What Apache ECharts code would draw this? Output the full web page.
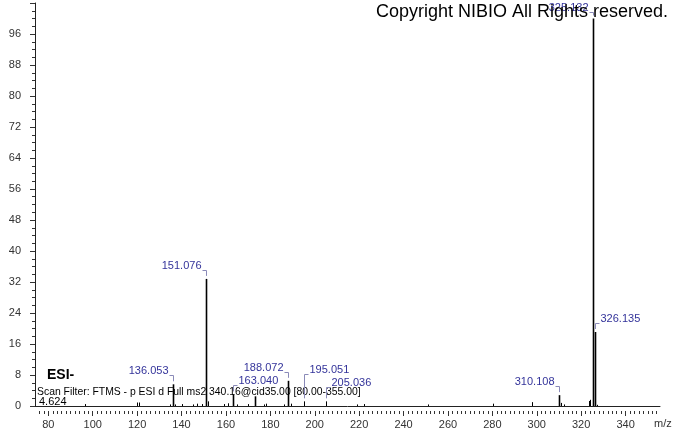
<!DOCTYPE html>
<html><head><meta charset="utf-8">
<script src="https://cdn.jsdelivr.net/npm/echarts@6/dist/echarts.min.js"></script>
<style>html,body{margin:0;padding:0;background:#fff}#c{width:674px;height:434px}</style>
</head><body><div id="c"></div>
<script>
// ---- data ----
const peakMz = [96.6, 119.9, 121.0, 135.0, 136.053, 137.06, 140.0, 145.0, 147.0, 149.0, 151.076, 152.08, 159.0, 161.0, 163.040, 165.0, 170.0, 173.1, 177.0, 178.1, 186.0, 188.072, 189.08, 195.051, 205.036, 219.0, 222.0, 251.0, 280.5, 297.9, 310.108, 311.1, 312.1, 323.6, 324.1, 325.132, 326.135, 327.1];
const peakIntensity = [0.5, 0.9, 0.9, 0.4, 5.6, 0.4, 0.5, 0.4, 0.6, 0.5, 32.8, 1.2, 0.5, 0.7, 3.0, 0.4, 0.5, 2.5, 0.4, 0.6, 0.4, 6.5, 0.6, 1.2, 1.2, 0.4, 0.5, 0.4, 0.6, 1.0, 2.8, 0.8, 0.4, 1.3, 1.6, 100, 19.1, 0.3];
const labelMz = [136.053, 151.076, 163.040, 188.072, 195.051, 205.036, 310.108, 325.132, 326.135];
const labelText = ['136.053', '151.076', '163.040', '188.072', '195.051', '205.036', '310.108', '325.132', '326.135'];
const xTickLabels = [80, 100, 120, 140, 160, 180, 200, 220, 240, 260, 280, 300, 320, 340];
const yTickLabels = [0, 8, 16, 24, 32, 40, 48, 56, 64, 72, 80, 88, 96];
const xRange = [74, 355.5];
const yRange = [0, 104];
const copyrightText = 'Copyright NIBIO All Rights reserved.';
const polarityText = 'ESI-';
const filterText = 'Scan Filter: FTMS - p ESI d Full ms2 340.16@cid35.00 [80.00-355.00]';
const baseIntensityText = '4.624';
const xAxisName = 'm/z';

// ---- layout (label placement) ----
const labelSide = ['L', 'L', 'R', 'L', 'R', 'R', 'L', 'L', 'R'];
const labelRaise = [0, 0, 0, 0, 18, 5, 0, -2, 0];

const FONT = '"Liberation Sans", Arial, sans-serif';
const minorTicks = [];
for (let v = 76; v <= 354; v += 2) minorTicks.push(v);

const peakData = peakMz.map((m, i) => [m, peakIntensity[i]]);
const labelData = labelMz.map((m, i) => [m, peakIntensity[peakMz.indexOf(m)], i]);

const chart = echarts.init(document.getElementById('c'), null, {renderer: 'canvas'});
const axisColor = '#222';
chart.setOption({
  animation: false,
  backgroundColor: '#fff',
  grid: {left: 35, right: 14, top: 3, bottom: 28, containLabel: false, outerBoundsMode: 'none'},
  xAxis: [
    {type: 'value', position: 'bottom', min: xRange[0], max: xRange[1], axisLine: {show: true, onZero: false, lineStyle: {color: axisColor, width: 1}},
     axisTick: {show: false}, axisLabel: {show: false}, splitLine: {show: false}},
    {type: 'value', position: 'bottom', min: xRange[0], max: xRange[1], offset: 5, axisLine: {show: false, onZero: false},
     axisTick: {show: true, customValues: minorTicks, length: 3, lineStyle: {color: '#333'}}, axisLabel: {show: false}, splitLine: {show: false}},
    {type: 'value', position: 'bottom', min: xRange[0], max: xRange[1], offset: 5, axisLine: {show: false, onZero: false},
     axisTick: {show: true, customValues: xTickLabels, length: 5, lineStyle: {color: '#333'}},
     axisLabel: {show: true, customValues: xTickLabels, margin: 8, fontSize: 11, fontFamily: FONT, color: '#333'}, splitLine: {show: false}}
  ],
  yAxis: [{
    type: 'value', position: 'left', min: yRange[0], max: yRange[1], interval: 8,
    axisLine: {show: true, onZero: false, lineStyle: {color: axisColor, width: 1}},
    axisTick: {show: true, length: 5, lineStyle: {color: '#333'}},
    minorTick: {show: true, splitNumber: 4, length: 3, lineStyle: {color: '#333'}},
    axisLabel: {show: true, margin: 14, fontSize: 11, fontFamily: FONT, color: '#333', showMaxLabel: false,
      formatter: v => (yTickLabels.indexOf(v) >= 0 ? String(v) : '')},
    splitLine: {show: false}, minorSplitLine: {show: false}
  }],
  series: [
    {
      type: 'custom', xAxisIndex: 0, yAxisIndex: 0, data: peakData, clip: false,
      renderItem: function (params, api) {
        const m = api.value(0), h = api.value(1);
        const p0 = api.coord([m, 0]);
        const p1 = api.coord([m, h]);
        const x = Math.round(p0[0]) + 0.5;
        return {type: 'line', shape: {x1: x, y1: p0[1], x2: x, y2: p1[1]},
          style: {stroke: '#000', lineWidth: h > 2 ? 1.6 : 1}};
      }
    },
    {
      type: 'custom', xAxisIndex: 0, yAxisIndex: 0, data: labelData, clip: false, z: 5,
      renderItem: function (params, api) {
        const m = api.value(0), h = api.value(1), i = api.value(2);
        const p = api.coord([m, h]);
        const x = Math.round(p[0]) + 0.5;
        const top = p[1];
        const cy = top - 13 - labelRaise[i];
        const stubY = Math.round(cy + 4) + 0.5;
        const legEnd = top - 3;
        const dir = labelSide[i] === 'L' ? -1 : 1;
        return {type: 'group', children: [
          {type: 'polyline', shape: {points: [[x + dir * 4, stubY], [x, stubY], [x, legEnd]]},
            style: {stroke: '#8a8ab8', lineWidth: 1, fill: null}},
          {type: 'text', style: {text: labelText[i], x: x + dir * 5, y: cy,
            align: dir < 0 ? 'right' : 'left', verticalAlign: 'middle', fill: '#33339a', font: '11px ' + FONT}}
        ]};
      }
    }
  ],
  graphic: [
    {type: 'text', right: 6, top: 3, z: 10, style: {text: copyrightText, fill: '#000', font: '18px ' + FONT}},
    {type: 'text', left: 47, top: 368, style: {text: polarityText, fill: '#000', font: 'bold 14px ' + FONT}},
    {type: 'text', left: 37, top: 387, style: {text: filterText, fill: '#000', font: '10.4px ' + FONT}},
    {type: 'text', left: 39, top: 396, style: {text: baseIntensityText, fill: '#000', font: '11px ' + FONT}},
    {type: 'text', left: 654, top: 418, style: {text: xAxisName, fill: '#333', font: '11px ' + FONT}}
  ]
});
</script>
</body></html>
